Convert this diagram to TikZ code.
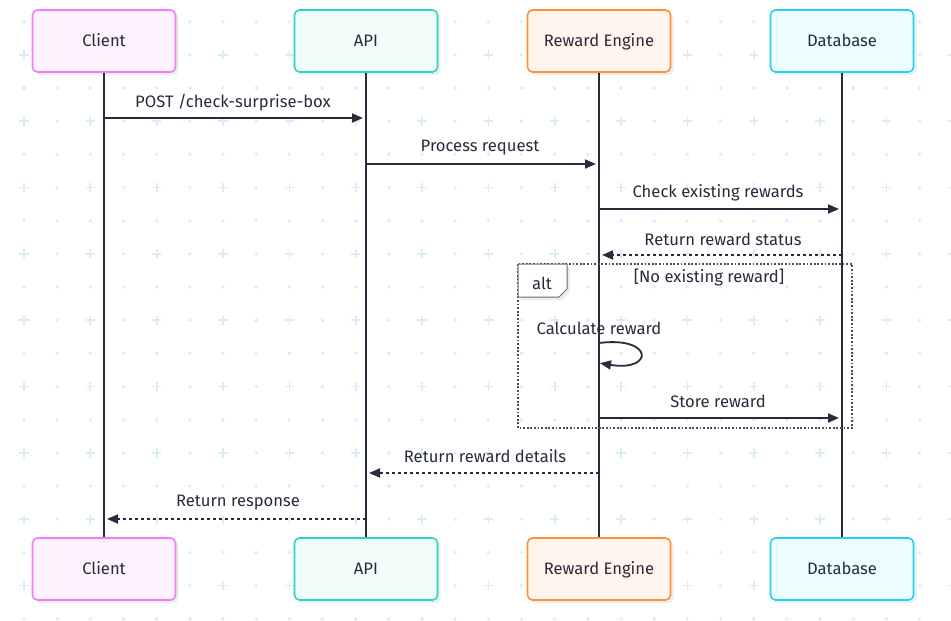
\documentclass[tikz,border=0pt]{standalone}
\usepackage{fontspec}
\setmainfont{Fira Sans}
\usetikzlibrary{arrows.meta}
\definecolor{ink}{HTML}{2B2A3D}
\definecolor{gridc}{HTML}{D8EEF3}
\definecolor{clB}{HTML}{F07CF7}
\definecolor{clF}{HTML}{FDF2FE}
\definecolor{apB}{HTML}{2DD4BF}
\definecolor{apF}{HTML}{F0FDFA}
\definecolor{reB}{HTML}{FB923C}
\definecolor{reF}{HTML}{FFF5EC}
\definecolor{dbB}{HTML}{22D3EE}
\definecolor{dbF}{HTML}{ECFEFF}
\begin{document}
\begin{tikzpicture}[x=1pt,y=-1pt,
  every node/.style={font=\fontsize{16.6}{19}\selectfont, text=ink},
  actor/.style={draw, line width=1.6pt, rounded corners=5pt, minimum width=143pt, minimum height=62pt, inner sep=0pt, text height=11.4pt, text depth=0pt},
  shadowbox/.style={fill=black, opacity=0.07, rounded corners=5pt},
  clbox/.style={actor, draw=clB, fill=clF},
  apbox/.style={actor, draw=apB, fill=apF},
  rebox/.style={actor, draw=reB, fill=reF},
  dbbox/.style={actor, draw=dbB, fill=dbF},
  life/.style={draw=ink, line width=1.8pt},
  msg/.style={draw=ink, line width=1.8pt, -{Triangle[length=11pt,width=9pt]}, shorten >=3pt},
  rmsg/.style={msg, dash pattern=on 3pt off 3pt},
  altline/.style={draw=ink!85, line width=1.6pt, dash pattern=on 1.8pt off 1.8pt}
]
\useasboundingbox (0,0) rectangle (951,621);
\fill[white] (0,0) rectangle (951,621);
% background grid
\foreach \i in {0,...,28} {
  \foreach \j in {0,...,18} {
    \pgfmathsetmacro{\gx}{24+33.17*\i}
    \pgfmathsetmacro{\gy}{21.7+33.17*\j}
    \pgfmathtruncatemacro{\pi}{mod(\i,2)}
    \pgfmathtruncatemacro{\pj}{mod(\j,2)}
    \ifnum\pi=0 \ifnum\pj=1
      \draw[gridc, line width=1.7pt] (\gx-4.6,\gy) -- (\gx+4.6,\gy) (\gx,\gy-4.6) -- (\gx,\gy+4.6);
    \else
      \fill[gridc] (\gx,\gy) circle (1.8);
    \fi \else
      \fill[gridc] (\gx,\gy) circle (1.8);
    \fi
  }
}
% shadows
\foreach \cx in {104,366,599,842} {
  \fill[shadowbox] (\cx-71.5+3,13) rectangle (\cx+71.5+3,75);
  \fill[shadowbox] (\cx-71.5+3,541) rectangle (\cx+71.5+3,603);
}
% actors
\node[clbox] (c1) at (104,41) {Client};
\node[apbox] (a1) at (366,41) {API};
\node[rebox] (r1) at (599,41) {Reward Engine};
\node[dbbox] (d1) at (842,41) {Database};
\node[clbox] (c2) at (104,569) {Client};
\node[apbox] (a2) at (366,569) {API};
\node[rebox] (r2) at (599,569) {Reward Engine};
\node[dbbox] (d2) at (842,569) {Database};
% lifelines
\draw[life] (c1.south) -- (c2.north);
\draw[life] (a1.south) -- (a2.north);
\draw[life] (r1.south) -- (r2.north);
\draw[life] (d1.south) -- (d2.north);
% alt frame
\draw[altline] (518,264) rectangle (852,428);
\fill[black, opacity=0.07] (521,267) -- (570,267) -- (570,292) -- (562,300) -- (521,300) -- cycle;
\draw[fill=white, draw=ink!70, line width=1pt] (518,264) -- (567,264) -- (567,289) -- (559,297) -- (518,297) -- cycle;
\node (altl) at (542,283) {alt};
\node (cond) at (709,277.5) {[No existing reward]};
% message anchors
\coordinate (m1a) at (104,118); \coordinate (m1b) at (366,118);
\coordinate (m2a) at (366,164); \coordinate (m2b) at (599,164);
\coordinate (m3a) at (599,209); \coordinate (m3b) at (842,209);
\coordinate (m4a) at (842,255); \coordinate (m4b) at (599,255);
\coordinate (m5a) at (599,343); \coordinate (m5b) at (599,363);
\coordinate (m6a) at (599,418); \coordinate (m6b) at (842,418);
\coordinate (m7a) at (599,473); \coordinate (m7b) at (366,473);
\coordinate (m8a) at (366,519); \coordinate (m8b) at (104,519);
% messages
\draw[msg] (m1a) -- (m1b);
\node (t1) at (233,102.5) {POST /check-surprise-box};
\draw[msg] (m2a) -- (m2b);
\node (t2) at (480,147.5) {Process request};
\draw[msg] (m3a) -- (m3b);
\node (t3) at (718,192.5) {Check existing rewards};
\draw[rmsg] (m4a) -- (m4b);
\node (t4) at (723,239.5) {Return reward status};
\draw[msg, shorten >=1pt] (m5a) .. controls (654,336) and (654,372) .. (m5b);
\node (t5) at (599,328) {Calculate reward};
\draw[msg] (m6a) -- (m6b);
\node (t6) at (718,401.5) {Store reward};
\draw[rmsg] (m7a) -- (m7b);
\node (t7) at (485,456.5) {Return reward details};
\draw[rmsg] (m8a) -- (m8b);
\node (t8) at (238,502.5) {Return response};
\end{tikzpicture}
\end{document}
